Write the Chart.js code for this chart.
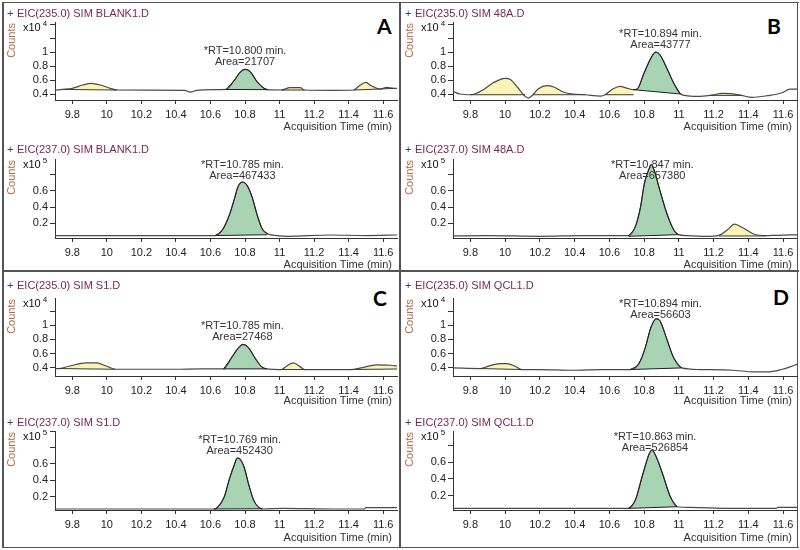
<!DOCTYPE html>
<html>
<head>
<meta charset="utf-8">
<script src="https://cdn.jsdelivr.net/npm/chart.js@4.4.0/dist/chart.umd.min.js"></script>
<style>
html, body { margin: 0; padding: 0; background: #fff; }
#wrap { position: relative; width: 800px; height: 550px; overflow: hidden; }
#wrap canvas { position: absolute; }
.line { position: absolute; background: #555; }
.letter { position: absolute; font: bold 21px Lato, "Liberation Sans", sans-serif; color: #000; line-height: 21px; }
</style>
</head>
<body>
<div id="wrap">
  <div class="line" style="left:2px;top:2px;width:797px;height:1px"></div>
  <div class="line" style="left:2px;top:270px;width:797px;height:2px"></div>
  <div class="line" style="left:2px;top:547px;width:797px;height:1px"></div>
  <div class="line" style="left:2px;top:2px;width:2px;height:546px"></div>
  <div class="line" style="left:399px;top:2px;width:2px;height:546px"></div>
  <div class="line" style="left:797px;top:2px;width:1px;height:546px"></div>
  <div class="letter" style="left:377px;top:15px">A</div>
  <div class="letter" style="left:767px;top:15px">B</div>
  <div class="letter" style="left:373px;top:287px">C</div>
  <div class="letter" style="left:773px;top:286px">D</div>
</div>
<script>
// ---- data (time in min, counts in x10^4 / x10^5) ----
const traceTitles = ['+ EIC(235.0) SIM BLANK1.D', '+ EIC(237.0) SIM BLANK1.D',
  '+ EIC(235.0) SIM 48A.D', '+ EIC(237.0) SIM 48A.D',
  '+ EIC(235.0) SIM S1.D', '+ EIC(237.0) SIM S1.D',
  '+ EIC(235.0) SIM QCL1.D', '+ EIC(237.0) SIM QCL1.D'];
const peakRT = [10.800, 10.785, 10.894, 10.847, 10.785, 10.769, 10.894, 10.863];
const peakArea = [21707, 467433, 43777, 657380, 27468, 452430, 56603, 526854];
const countsExp = [4, 5, 4, 5, 4, 5, 4, 5];
const yMin = [0.32, 0.02, 0.32, 0.02, 0.28, 0.04, 0.28, 0.03];
const yMax = [1.43, 0.99, 1.43, 0.99, 1.39, 1.0, 1.39, 0.97];
const timeMin = 9.7, timeMax = 11.68;

// peaks: [start, end, baseline at start, baseline at end]; first one is the labelled peak
const aTopTime = [9.70, 9.745, 9.80, 9.86, 9.91, 9.965, 10.02, 10.06, 10.27, 10.45, 10.485, 10.52, 10.62, 10.69, 10.74, 10.77, 10.80, 10.83, 10.87, 10.91, 10.93, 11.01, 11.06, 11.12, 11.145, 11.31, 11.43, 11.46, 11.50, 11.53, 11.58, 11.62, 11.66, 11.69];
const aTopCounts = [0.46, 0.47, 0.486, 0.533, 0.557, 0.533, 0.486, 0.462, 0.46, 0.457, 0.433, 0.457, 0.467, 0.47, 0.605, 0.71, 0.757, 0.724, 0.58, 0.486, 0.467, 0.462, 0.495, 0.495, 0.462, 0.457, 0.462, 0.52, 0.57, 0.524, 0.476, 0.50, 0.486, 0.486];
const aTopPeaks = [[10.69, 10.93, 0.47, 0.467], [9.745, 10.06, 0.47, 0.462], [11.01, 11.145, 0.462, 0.462], [11.43, 11.58, 0.462, 0.476], [11.58, 11.66, 0.476, 0.486]];

const aBotTime = [9.70, 9.90, 10.10, 10.30, 10.50, 10.628, 10.67, 10.71, 10.74, 10.76, 10.785, 10.81, 10.84, 10.87, 10.90, 10.93, 10.985, 11.05, 11.29, 11.50, 11.69];
const aBotCounts = [0.05, 0.05, 0.05, 0.05, 0.05, 0.05, 0.122, 0.306, 0.51, 0.653, 0.706, 0.673, 0.53, 0.306, 0.13, 0.073, 0.049, 0.041, 0.057, 0.05, 0.057];
const aBotPeaks = [[10.628, 10.93, 0.05, 0.06]];

const bTopTime = [9.70, 9.74, 9.80, 9.875, 9.93, 10.00, 10.03, 10.07, 10.115, 10.134, 10.16, 10.19, 10.24, 10.28, 10.34, 10.39, 10.46, 10.55, 10.575, 10.62, 10.66, 10.70, 10.74, 10.76, 10.80, 10.84, 10.866, 10.89, 10.93, 10.97, 11.01, 11.05, 11.12, 11.18, 11.25, 11.30, 11.36, 11.42, 11.51, 11.59, 11.64, 11.69];
const bTopCounts = [0.443, 0.405, 0.395, 0.467, 0.562, 0.628, 0.61, 0.505, 0.371, 0.348, 0.395, 0.476, 0.524, 0.505, 0.43, 0.405, 0.395, 0.376, 0.395, 0.476, 0.514, 0.49, 0.467, 0.476, 0.705, 0.92, 1.0, 0.967, 0.776, 0.562, 0.405, 0.38, 0.371, 0.386, 0.414, 0.41, 0.386, 0.357, 0.381, 0.419, 0.476, 0.476];
const bTopPeaks = [[10.74, 11.01, 0.467, 0.405], [9.80, 10.115, 0.395, 0.395], [10.16, 10.46, 0.395, 0.395], [10.575, 10.74, 0.395, 0.395], [11.18, 11.36, 0.386, 0.386]];

const bBotTime = [9.70, 9.90, 10.20, 10.45, 10.71, 10.75, 10.78, 10.80, 10.83, 10.84, 10.86, 10.89, 10.93, 10.97, 10.997, 11.05, 11.16, 11.23, 11.28, 11.32, 11.37, 11.43, 11.50, 11.56, 11.69];
const bBotCounts = [0.045, 0.049, 0.041, 0.049, 0.049, 0.163, 0.408, 0.673, 0.878, 0.92, 0.837, 0.61, 0.327, 0.122, 0.061, 0.049, 0.041, 0.053, 0.122, 0.19, 0.143, 0.069, 0.049, 0.053, 0.06];
const bBotPeaks = [[10.71, 10.997, 0.041, 0.061], [11.23, 11.50, 0.045, 0.045]];

const cTopTime = [9.70, 9.72, 9.78, 9.88, 9.94, 10.00, 10.05, 10.21, 10.39, 10.54, 10.676, 10.725, 10.763, 10.788, 10.82, 10.86, 10.897, 10.926, 11.01, 11.04, 11.08, 11.12, 11.145, 11.31, 11.41, 11.48, 11.56, 11.64, 11.69];
const cTopCounts = [0.386, 0.386, 0.419, 0.466, 0.466, 0.419, 0.376, 0.376, 0.376, 0.381, 0.381, 0.551, 0.683, 0.73, 0.683, 0.528, 0.41, 0.381, 0.372, 0.419, 0.466, 0.41, 0.372, 0.372, 0.372, 0.40, 0.438, 0.433, 0.419];
const cTopPeaks = [[10.676, 10.926, 0.381, 0.381], [9.72, 10.05, 0.386, 0.376], [11.01, 11.145, 0.372, 0.372], [11.41, 11.69, 0.372, 0.38]];

const cBotTime = [9.70, 10.00, 10.30, 10.62, 10.64, 10.68, 10.71, 10.74, 10.755, 10.77, 10.795, 10.82, 10.85, 10.88, 10.90, 11.02, 11.31, 11.49, 11.50, 11.69];
const cBotCounts = [0.052, 0.052, 0.052, 0.052, 0.07, 0.2, 0.42, 0.6, 0.672, 0.66, 0.56, 0.36, 0.16, 0.072, 0.052, 0.06, 0.052, 0.052, 0.068, 0.068];
const cBotPeaks = [[10.62, 10.90, 0.052, 0.055]];

const dTopTime = [9.70, 9.86, 9.908, 9.97, 10.01, 10.058, 10.096, 10.20, 10.39, 10.55, 10.72, 10.77, 10.805, 10.84, 10.87, 10.89, 10.93, 10.968, 11.016, 11.12, 11.31, 11.43, 11.51, 11.59, 11.64, 11.69];
const dTopCounts = [0.395, 0.386, 0.424, 0.457, 0.457, 0.419, 0.372, 0.372, 0.362, 0.372, 0.372, 0.457, 0.67, 0.976, 1.094, 1.07, 0.81, 0.551, 0.395, 0.372, 0.362, 0.339, 0.339, 0.372, 0.41, 0.457];
const dTopPeaks = [[10.72, 11.016, 0.372, 0.395], [9.86, 10.096, 0.386, 0.372]];

const dBotTime = [9.70, 10.00, 10.30, 10.60, 10.71, 10.75, 10.79, 10.83, 10.845, 10.87, 10.91, 10.95, 10.99, 11.064, 11.31, 11.56, 11.57, 11.69];
const dBotCounts = [0.049, 0.049, 0.049, 0.049, 0.049, 0.151, 0.437, 0.702, 0.743, 0.661, 0.437, 0.192, 0.069, 0.061, 0.049, 0.049, 0.061, 0.061];
const dBotPeaks = [[10.71, 10.99, 0.049, 0.069]];

const traces = [
  [aTopTime, aTopCounts, aTopPeaks], [aBotTime, aBotCounts, aBotPeaks],
  [bTopTime, bTopCounts, bTopPeaks], [bBotTime, bBotCounts, bBotPeaks],
  [cTopTime, cTopCounts, cTopPeaks], [cBotTime, cBotCounts, cBotPeaks],
  [dTopTime, dTopCounts, dTopPeaks], [dBotTime, dBotCounts, dBotPeaks]
];

// ---- layout ----
const cols = [{left: 4, axis: 55, right: 397, edge: 398}, {left: 402, axis: 453, right: 797, edge: 798}];
const rows = [
  {top: 4, title: 14, plotTop: 22, plotBottom: 100, axisTitle: 127, bottom: 134},
  {top: 137, title: 150, plotTop: 159, plotBottom: 238, axisTitle: 265, bottom: 270},
  {top: 274, title: 286, plotTop: 298, plotBottom: 376, axisTitle: 401, bottom: 408},
  {top: 411, title: 423, plotTop: 431, plotBottom: 510, axisTitle: 538, bottom: 546}
];
const colOf = [0, 0, 1, 1, 0, 0, 1, 1];
const rowOf = [0, 1, 0, 1, 2, 3, 2, 3];

const FONT = '"Liberation Sans", Arial, sans-serif';
const green = '#a8d4b3';
const yellow = '#fcf3b6';

const chromText = {
  id: 'chromText',
  afterDraw(chart, args, o) {
    const {ctx, chartArea: a, scales: {x, y}} = chart;
    ctx.save();
    ctx.textBaseline = 'middle';
    ctx.font = '11px ' + FONT;
    ctx.textAlign = 'left';
    ctx.fillStyle = '#2c3f8c';
    ctx.fillText('+', 3, o.titleY);
    ctx.fillStyle = '#7a2851';
    ctx.fillText(o.title.slice(2), 13, o.titleY);

    ctx.fillStyle = '#111';
    ctx.fillText('x10', 19, a.top + 6);
    const w = ctx.measureText('x10').width;
    ctx.font = '8px ' + FONT;
    ctx.fillText(String(o.exp), 19 + w + 2, a.top + 2);

    ctx.font = '11px ' + FONT;
    ctx.save();
    ctx.translate(8, a.top + 1);
    ctx.rotate(-Math.PI / 2);
    ctx.textAlign = 'right';
    ctx.fillStyle = '#b8693f';
    ctx.fillText('Counts', 0, 0);
    ctx.restore();

    ctx.textAlign = 'right';
    ctx.fillStyle = '#333';
    ctx.fillText('Acquisition Time (min)', a.right - 5, o.axisTitleY);

    const px = x.getPixelForValue(o.rt);
    const py = y.getPixelForValue(o.apex);
    const areaY = Math.max(py - 7, a.top + 17);
    ctx.textAlign = 'center';
    ctx.fillStyle = '#333';
    ctx.fillText('*RT=' + o.rt.toFixed(3) + ' min.', px, areaY - 11);
    ctx.fillText('Area=' + o.area, px, areaY);
    ctx.restore();
  }
};

const wrap = document.getElementById('wrap');

traces.forEach(([time, counts, peaks], i) => {
  const col = cols[colOf[i]], row = rows[rowOf[i]];
  const cv = document.createElement('canvas');
  cv.width = col.edge - col.left;
  cv.height = row.bottom - row.top;
  cv.style.left = col.left + 'px';
  cv.style.top = row.top + 'px';
  wrap.appendChild(cv);

  const pts = time.map((t, k) => ({x: t, y: counts[k]}));
  const datasets = [{
    data: pts, borderColor: '#4a4a4a', borderWidth: 1.2, pointRadius: 0,
    cubicInterpolationMode: 'monotone', fill: false, order: 2
  }];
  let apex = 0;
  peaks.forEach((p, k) => {
    const main = k === 0;
    const seg = pts.filter(q => q.x >= p[0] && q.x <= p[1]);
    if (main) apex = Math.max(...seg.map(q => q.y));
    const c = main ? green : yellow;
    const baseIdx = datasets.length + 1;
    datasets.push({
      data: seg, borderColor: main ? '#1e1e1e' : 'rgba(0,0,0,0)', borderWidth: 1, pointRadius: 0,
      cubicInterpolationMode: 'monotone', backgroundColor: c,
      fill: {target: baseIdx, above: c, below: c}, order: 0
    });
    datasets.push({
      data: [{x: p[0], y: p[2]}, {x: p[1], y: p[3]}], borderColor: main ? '#1e1e1e' : '#3b3a2c',
      borderWidth: 1, pointRadius: 0, fill: false, order: 1
    });
  });

  const labelMax = countsExp[i] === 4 ? 1.0 : 0.6;
  new Chart(cv, {
    type: 'line',
    data: {datasets},
    plugins: [chromText],
    options: {
      responsive: false,
      animation: false,
      layout: {padding: {left: 0, top: row.plotTop - row.top, right: col.edge - col.right, bottom: 0}},
      plugins: {
        legend: {display: false},
        tooltip: {enabled: false},
        filler: {drawTime: 'beforeDatasetsDraw'},
        chromText: {
          title: traceTitles[i], exp: countsExp[i], rt: peakRT[i], area: peakArea[i], apex,
          titleY: row.title - row.top, axisTitleY: row.axisTitle - row.top
        }
      },
      scales: {
        x: {
          type: 'linear', min: timeMin, max: timeMax,
          afterFit: s => { s.height = row.bottom - row.plotBottom; },
          grid: {drawOnChartArea: false, tickLength: 4, color: '#333'},
          border: {color: '#333'},
          ticks: {
            stepSize: 0.2, includeBounds: false, maxRotation: 0, autoSkip: false, padding: 4,
            color: '#222', font: {family: FONT, size: 11},
            callback: v => String(Math.round(v * 10) / 10)
          }
        },
        y: {
          min: yMin[i], max: yMax[i],
          afterFit: s => { s.width = col.axis - col.left; },
          grid: {drawOnChartArea: false, tickLength: 5, color: '#333'},
          border: {color: '#333'},
          ticks: {
            stepSize: 0.2, includeBounds: false, autoSkip: false, padding: 2,
            color: '#222', font: {family: FONT, size: 11},
            callback: v => {
              const r = Math.round(v * 10) / 10;
              return r > labelMax + 1e-9 ? '' : String(r);
            }
          }
        }
      }
    }
  });
});
</script>
</body>
</html>
